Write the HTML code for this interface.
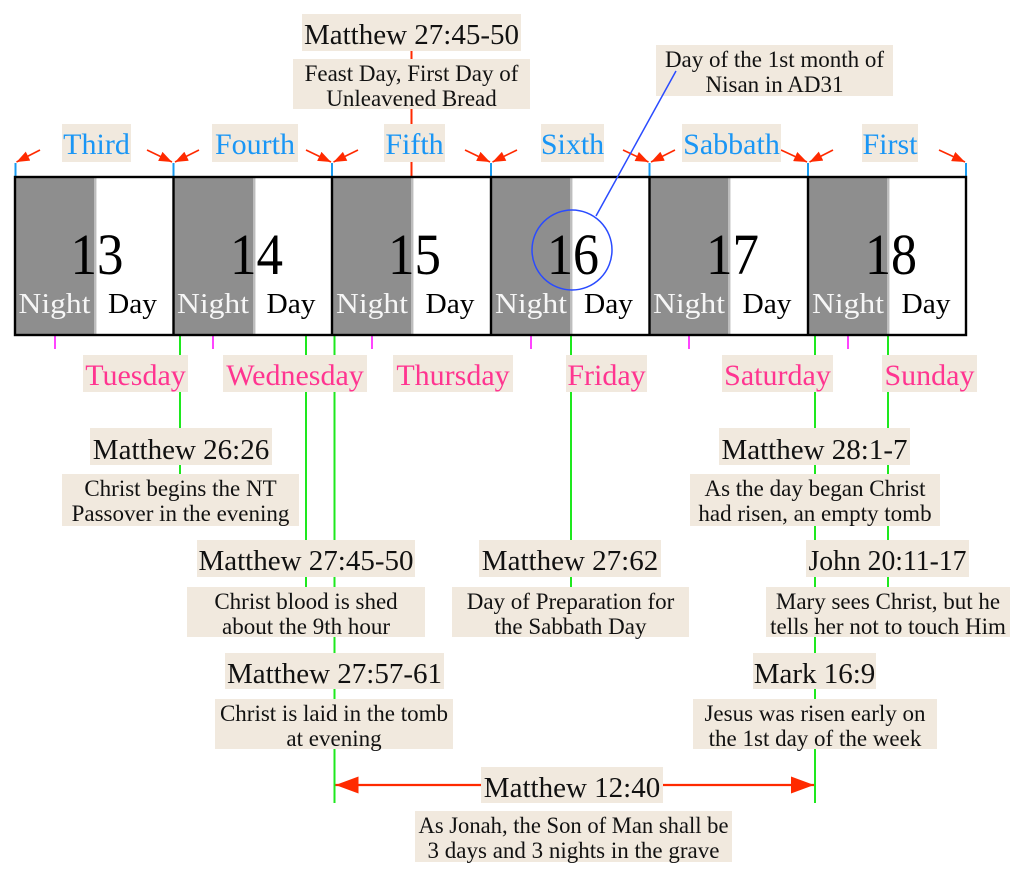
<!DOCTYPE html>
<html><head><meta charset="utf-8"><style>
html,body{margin:0;padding:0;background:#fff;}
svg{display:block;}
text{font-family:"Liberation Serif",serif;}
.t{font-size:29px;fill:#111;text-anchor:middle;}
.d{font-size:23px;fill:#111;text-anchor:middle;}
.bl{font-size:30px;fill:#1a96f5;text-anchor:middle;}
.pk{font-size:30px;fill:#ff3590;text-anchor:middle;}
.num{font-size:58px;fill:#000;text-anchor:middle;}
.ni{font-size:29px;fill:#f6f6f6;text-anchor:middle;}
.dy{font-size:29px;fill:#000;text-anchor:middle;}
</style></head><body>
<svg width="1024" height="877" viewBox="0 0 1024 877" xmlns="http://www.w3.org/2000/svg">
<defs>
<marker id="ah" markerUnits="userSpaceOnUse" markerWidth="13" markerHeight="10" refX="13" refY="5" orient="auto"><path d="M0,0 L13,5 L0,10 z" fill="#ff2a00"/></marker>
<marker id="ab" markerUnits="userSpaceOnUse" markerWidth="24" markerHeight="17" refX="23" refY="8.5" orient="auto"><path d="M0,0 L23,8.5 L0,17 z" fill="#ff2a00"/></marker>
</defs>
<rect width="1024" height="877" fill="#fff"/>

<!-- red vertical connector top -->
<line x1="411.5" y1="40" x2="411.5" y2="176" stroke="#ff2a00" stroke-width="2"/>

<!-- green lines -->
<g stroke="#1ee81e" stroke-width="2">
<line x1="180" y1="336" x2="180" y2="474"/>
<line x1="306" y1="336" x2="306" y2="587"/>
<line x1="334.5" y1="336" x2="334.5" y2="803"/>
<line x1="571" y1="336" x2="571" y2="587"/>
<line x1="815" y1="336" x2="815" y2="803"/>
<line x1="888" y1="336" x2="888" y2="587"/>
</g>

<!-- magenta ticks -->
<g stroke="#ff44ff" stroke-width="2">
<line x1="55" y1="336" x2="55" y2="349"/>
<line x1="213" y1="336" x2="213" y2="349"/>
<line x1="372" y1="336" x2="372" y2="349"/>
<line x1="531" y1="336" x2="531" y2="349"/>
<line x1="689" y1="336" x2="689" y2="349"/>
<line x1="848" y1="336" x2="848" y2="349"/>
</g>

<!-- blue ticks -->
<g stroke="#1a9bf0" stroke-width="2">
<line x1="15.5" y1="163" x2="15.5" y2="177"/>
<line x1="173.5" y1="163" x2="173.5" y2="177"/>
<line x1="332" y1="163" x2="332" y2="177"/>
<line x1="491" y1="163" x2="491" y2="177"/>
<line x1="649.5" y1="163" x2="649.5" y2="177"/>
<line x1="808" y1="163" x2="808" y2="177"/>
<line x1="966" y1="163" x2="966" y2="177"/>
</g>

<!-- red arrows at top -->
<g stroke="#ff2a00" stroke-width="1.6" fill="none" marker-end="url(#ah)">
<line x1="40" y1="150" x2="16.5" y2="162"/>
<line x1="147" y1="150" x2="172" y2="162"/>
<line x1="199" y1="150" x2="175" y2="162"/>
<line x1="306" y1="150" x2="331" y2="162"/>
<line x1="358" y1="150" x2="333.5" y2="162"/>
<line x1="465" y1="150" x2="490" y2="162"/>
<line x1="517" y1="150" x2="492.5" y2="162"/>
<line x1="623" y1="150" x2="648.5" y2="162"/>
<line x1="675" y1="150" x2="651" y2="162"/>
<line x1="781" y1="150" x2="807" y2="162"/>
<line x1="833" y1="150" x2="809.5" y2="162"/>
<line x1="939" y1="150" x2="965" y2="162"/>
</g>

<!-- day boxes -->
<g>
<rect x="15" y="177" width="951" height="158" fill="#fff"/>
<rect x="15" y="177" width="79" height="158" fill="#8e8e8e"/>
<rect x="173" y="177" width="80" height="158" fill="#8e8e8e"/>
<rect x="332" y="177" width="79" height="158" fill="#8e8e8e"/>
<rect x="491" y="177" width="79" height="158" fill="#8e8e8e"/>
<rect x="649" y="177" width="79" height="158" fill="#8e8e8e"/>
<rect x="808" y="177" width="79" height="158" fill="#8e8e8e"/>
<g fill="#bdbdbd">
<rect x="94" y="177" width="2" height="158"/><rect x="253" y="177" width="2" height="158"/><rect x="411" y="177" width="2" height="158"/><rect x="570" y="177" width="2" height="158"/><rect x="728" y="177" width="2" height="158"/><rect x="887" y="177" width="2" height="158"/>
</g>
<g fill="#e2e2e2">
<rect x="96" y="177" width="1" height="158"/><rect x="255" y="177" width="1" height="158"/><rect x="413" y="177" width="1" height="158"/><rect x="572" y="177" width="1" height="158"/><rect x="730" y="177" width="1" height="158"/><rect x="889" y="177" width="1" height="158"/>
</g>
<rect x="15" y="177" width="951" height="158" fill="none" stroke="#000" stroke-width="2.4"/>
<g stroke="#000" stroke-width="2.4">
<line x1="173.5" y1="177" x2="173.5" y2="335"/>
<line x1="332" y1="177" x2="332" y2="335"/>
<line x1="491" y1="177" x2="491" y2="335"/>
<line x1="649.5" y1="177" x2="649.5" y2="335"/>
<line x1="808" y1="177" x2="808" y2="335"/>
</g>
</g>

<!-- numbers -->
<text class="num" x="97" y="274" textLength="53" lengthAdjust="spacingAndGlyphs">13</text>
<text class="num" x="256.5" y="274" textLength="53" lengthAdjust="spacingAndGlyphs">14</text>
<text class="num" x="414.5" y="274" textLength="53" lengthAdjust="spacingAndGlyphs">15</text>
<text class="num" x="573" y="274" textLength="52" lengthAdjust="spacingAndGlyphs">16</text>
<text class="num" x="732.5" y="274" textLength="53" lengthAdjust="spacingAndGlyphs">17</text>
<text class="num" x="891" y="274" textLength="52" lengthAdjust="spacingAndGlyphs">18</text>

<!-- Night / Day -->
<text class="ni" x="54.5" y="313" textLength="72" lengthAdjust="spacingAndGlyphs">Night</text>
<text class="ni" x="213" y="313" textLength="72" lengthAdjust="spacingAndGlyphs">Night</text>
<text class="ni" x="372" y="313" textLength="72" lengthAdjust="spacingAndGlyphs">Night</text>
<text class="ni" x="531" y="313" textLength="72" lengthAdjust="spacingAndGlyphs">Night</text>
<text class="ni" x="689" y="313" textLength="72" lengthAdjust="spacingAndGlyphs">Night</text>
<text class="ni" x="848" y="313" textLength="72" lengthAdjust="spacingAndGlyphs">Night</text>
<text class="dy" x="132.5" y="313" textLength="49" lengthAdjust="spacingAndGlyphs">Day</text>
<text class="dy" x="291" y="313" textLength="49" lengthAdjust="spacingAndGlyphs">Day</text>
<text class="dy" x="450" y="313" textLength="49" lengthAdjust="spacingAndGlyphs">Day</text>
<text class="dy" x="608.5" y="313" textLength="49" lengthAdjust="spacingAndGlyphs">Day</text>
<text class="dy" x="767" y="313" textLength="49" lengthAdjust="spacingAndGlyphs">Day</text>
<text class="dy" x="926" y="313" textLength="49" lengthAdjust="spacingAndGlyphs">Day</text>

<!-- circle -->
<circle cx="572" cy="250" r="40" fill="none" stroke="#2a4bff" stroke-width="1.5"/>

<!-- beige boxes -->
<g fill="#f1e9de">
<rect x="302" y="14" width="219" height="37"/>
<rect x="293" y="59" width="237" height="50"/>
<rect x="656" y="45" width="237" height="51"/>
<rect x="62" y="124" width="69" height="38"/>
<rect x="212" y="124" width="86" height="38"/>
<rect x="384" y="124" width="61" height="38"/>
<rect x="541" y="124" width="63" height="38"/>
<rect x="682" y="124" width="99" height="38"/>
<rect x="862" y="124" width="56" height="38"/>
<rect x="83" y="355" width="105" height="37"/>
<rect x="223" y="355" width="144" height="37"/>
<rect x="393" y="355" width="120" height="37"/>
<rect x="566" y="355" width="81" height="37"/>
<rect x="722" y="355" width="111" height="37"/>
<rect x="882" y="355" width="95" height="37"/>
<rect x="90" y="428" width="182" height="37"/>
<rect x="62" y="474" width="237" height="52"/>
<rect x="197" y="540" width="218" height="37"/>
<rect x="187" y="587" width="238" height="50"/>
<rect x="479" y="540" width="182" height="37"/>
<rect x="452" y="587" width="237" height="50"/>
<rect x="719" y="428" width="191" height="37"/>
<rect x="690" y="474" width="250" height="52"/>
<rect x="806" y="540" width="163" height="37"/>
<rect x="766" y="587" width="244" height="50"/>
<rect x="225" y="653" width="219" height="36"/>
<rect x="215" y="699" width="238" height="50"/>
<rect x="753" y="653" width="123" height="36"/>
<rect x="693" y="699" width="244" height="50"/>
<rect x="481" y="767" width="182" height="36"/>
<rect x="415" y="811" width="317" height="51"/>
</g>

<!-- blue pointer line -->
<line x1="676" y1="71" x2="596" y2="216" stroke="#2a4bff" stroke-width="1.5"/>

<!-- double arrow -->
<line x1="481" y1="785" x2="335.5" y2="785" stroke="#ff2a00" stroke-width="2.2" marker-end="url(#ab)"/>
<line x1="663" y1="785" x2="814" y2="785" stroke="#ff2a00" stroke-width="2.2" marker-end="url(#ab)"/>

<!-- day labels -->
<text class="bl" x="96.5" y="154">Third</text>
<text class="bl" x="255" y="154">Fourth</text>
<text class="bl" x="414.5" y="154">Fifth</text>
<text class="bl" x="572.5" y="154">Sixth</text>
<text class="bl" x="731.5" y="154">Sabbath</text>
<text class="bl" x="890" y="154">First</text>

<!-- weekday labels -->
<text class="pk" x="135.5" y="385">Tuesday</text>
<text class="pk" x="295" y="385">Wednesday</text>
<text class="pk" x="453" y="385">Thursday</text>
<text class="pk" x="606.5" y="385">Friday</text>
<text class="pk" x="777.5" y="385">Saturday</text>
<text class="pk" x="929.5" y="385">Sunday</text>

<!-- titles -->
<text class="t" x="411.5" y="44">Matthew 27:45-50</text>
<text class="t" x="181" y="459">Matthew 26:26</text>
<text class="t" x="306" y="570">Matthew 27:45-50</text>
<text class="t" x="570" y="570">Matthew 27:62</text>
<text class="t" x="814.5" y="459">Matthew 28:1-7</text>
<text class="t" x="887.5" y="570" textLength="158" lengthAdjust="spacingAndGlyphs">John 20:11-17</text>
<text class="t" x="334.5" y="683">Matthew 27:57-61</text>
<text class="t" x="814.5" y="683">Mark 16:9</text>
<text class="t" x="572" y="797">Matthew 12:40</text>

<!-- descriptions -->
<text class="d" x="411.5" y="81">Feast Day, First Day of</text>
<text class="d" x="411.5" y="106">Unleavened Bread</text>
<text class="d" x="774.5" y="67">Day of the 1st month of</text>
<text class="d" x="774.5" y="92">Nisan in AD31</text>
<text class="d" x="180.5" y="496">Christ begins the NT</text>
<text class="d" x="180.5" y="521">Passover in the evening</text>
<text class="d" x="306" y="609">Christ blood is shed</text>
<text class="d" x="306" y="634">about the 9th hour</text>
<text class="d" x="570.5" y="609">Day of Preparation for</text>
<text class="d" x="570.5" y="634">the Sabbath Day</text>
<text class="d" x="815" y="496">As the day began Christ</text>
<text class="d" x="815" y="521">had risen, an empty tomb</text>
<text class="d" x="888" y="609">Mary sees Christ, but he</text>
<text class="d" x="888" y="634">tells her not to touch Him</text>
<text class="d" x="334" y="721">Christ is laid in the tomb</text>
<text class="d" x="334" y="746">at evening</text>
<text class="d" x="815" y="721">Jesus was risen early on</text>
<text class="d" x="815" y="746">the 1st day of the week</text>
<text class="d" x="573.5" y="833" textLength="310" lengthAdjust="spacingAndGlyphs">As Jonah, the Son of Man shall be</text>
<text class="d" x="573.5" y="858">3 days and 3 nights in the grave</text>
</svg>
</body></html>
